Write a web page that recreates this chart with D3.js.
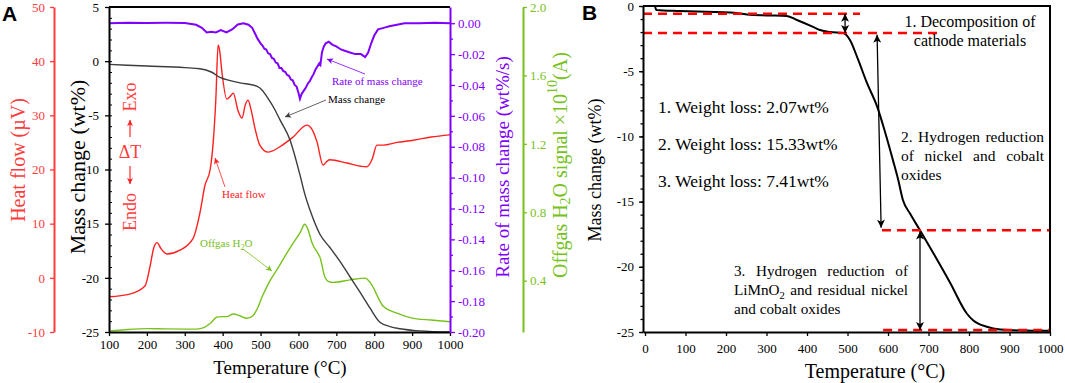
<!DOCTYPE html>
<html>
<head>
<meta charset="utf-8">
<script src="https://cdn.jsdelivr.net/npm/d3@7"></script>
<style>
  body { margin: 0; background: #fff; }
</style>
</head>
<body>
<svg id="chart" width="1065" height="383"></svg>
<script>
// ---- data ----
// panel A, temperature (°C) -> value
const heatFlow = [[100,-3.5],[155,-3.0],[195,-1.5],[208,2.0],[218,5.5],[227,6.5],[237,5.4],[253,4.4],[287,5.1],[322,7.3],[340,12],[353,17],[367,20],[375,25],[382,33],[388,43],[392,42],[398,38],[411,33],[420,33.5],[428,34.1],[440,31],[451,29.5],[460,32],[467,32.8],[475,31],[485,27.7],[498,24.5],[520,23.2],[551,24.2],[586,26],[622,28.2],[635,27.5],[649,25.1],[665,20.8],[675,21.5],[683,21.8],[728,21.2],[765,20.6],[780,20.5],[795,22],[807,24.5],[824,24.5],[860,25],[903,25.4],[950,26],[1000,26.4]];
const massA = [[100,-0.3],[200,-0.45],[300,-0.6],[340,-0.7],[370,-1.0],[393,-1.5],[420,-1.8],[446,-2.0],[490,-2.3],[505,-2.7],[517,-3.3],[535,-4.3],[551,-5.4],[578,-7.3],[604,-10.5],[617,-12.3],[630,-13.7],[657,-16.0],[683,-17.2],[710,-18.5],[736,-19.9],[762,-21.3],[789,-22.8],[815,-24.1],[842,-24.5],[868,-24.7],[921,-24.9],[1000,-25]];
const massRate = [[100,0],[150,0.0003],[200,0.0002],[250,0.0003],[300,0.0002],[330,-0.001],[345,-0.003],[358,-0.006],[370,-0.0055],[382,-0.006],[395,-0.0045],[410,-0.006],[425,-0.004],[440,-0.0008],[455,0],[468,-0.001],[478,-0.003],[486,-0.007],[492,-0.010],[500,-0.013],[505,-0.0145],[510,-0.0165],[515,-0.017],[520,-0.0195],[525,-0.020],[530,-0.0225],[535,-0.023],[540,-0.0255],[545,-0.026],[550,-0.029],[555,-0.029],[560,-0.031],[565,-0.0315],[570,-0.0335],[575,-0.034],[580,-0.0365],[585,-0.037],[590,-0.040],[595,-0.041],[600,-0.045],[604,-0.049],[608,-0.046],[612,-0.0445],[616,-0.043],[620,-0.0415],[625,-0.039],[630,-0.0375],[635,-0.035],[640,-0.033],[645,-0.030],[650,-0.028],[655,-0.026],[658,-0.027],[662,-0.019],[667,-0.015],[672,-0.013],[680,-0.012],[690,-0.014],[700,-0.015],[712,-0.017],[724,-0.018],[736,-0.019],[750,-0.020],[765,-0.020],[776,-0.022],[784,-0.019],[792,-0.013],[800,-0.008],[810,-0.004],[825,-0.003],[840,-0.002],[860,-0.001],[880,0],[920,0],[960,0.0003],[1000,0]];
const offgas = [[100,0.105],[150,0.115],[200,0.12],[250,0.118],[300,0.117],[332,0.117],[350,0.125],[367,0.15],[385,0.187],[398,0.19],[411,0.19],[428,0.205],[445,0.195],[464,0.18],[480,0.195],[490,0.23],[505,0.31],[525,0.40],[545,0.47],[569,0.56],[586,0.62],[604,0.68],[617,0.73],[625,0.7],[636,0.62],[650,0.565],[657,0.535],[670,0.42],[680,0.395],[692,0.39],[736,0.405],[776,0.415],[789,0.39],[800,0.35],[807,0.316],[824,0.25],[860,0.21],[903,0.18],[950,0.17],[1000,0.16]];

// panel B
const massB = [[25,-0.05],[28,-0.3],[86,-0.38],[150,-0.45],[210,-0.5],[252,-0.65],[300,-0.72],[350,-0.77],[375,-1.07],[415,-1.6],[432,-1.84],[457,-2.0],[489,-2.07],[506,-2.6],[526,-4.1],[548,-5.9],[573,-7.7],[593,-9.7],[612,-11.8],[625,-13.3],[637,-14.9],[654,-15.9],[679,-17.2],[711,-18.9],[753,-21.2],[795,-23.6],[810,-24.1],[844,-24.6],[877,-24.8],[959,-24.9],[1000,-24.9]];
const dashLevels = [-0.6, -2.07, -17.2, -24.85];
const dashFrom = [-5, -5, 585, 588];
const dashTo = [531, 728, 1000, 1000];
const stepArrows = [[494,-0.6,494,-2.07],[573,-2.2,583,-17.0],[679,-17.3,679,-24.85]];

// tick values
const tempTicksA = d3.range(100, 1001, 100);
const tempTicksB = d3.range(0, 1001, 100);
const massTicks = [5, 0, -5, -10, -15, -20, -25];
const heatTicks = [50, 40, 30, 20, 10, 0, -10];
const rateTicks = [0, -0.02, -0.04, -0.06, -0.08, -0.10, -0.12, -0.14, -0.16, -0.18, -0.20];
const gasTicks = [0.4, 0.8, 1.2, 1.6, 2.0];
const massTicksB = [0, -5, -10, -15, -20, -25];

const weightLoss = ["1. Weight loss: 2.07wt%", "2. Weight loss: 15.33wt%", "3. Weight loss: 7.41wt%"];
const noteOne = ["1. Decomposition of", "cathode materials"];
const noteTwo = [["2.","Hydrogen","reduction"],["of","nickel","and","cobalt"],["oxides"]];
const noteThree = [["3.","Hydrogen","reduction","of"],["LiMnO_2","and","residual","nickel"],["and","cobalt","oxides"]];

// ---- drawing ----
const serif = "'Liberation Serif','Times New Roman',serif";
const RED = "#ff3b3b", RED_LINE = "#ff2020", PURPLE = "#8000ff", GREEN = "#76c21b", GREY = "#3c3c3c";
const svg = d3.select("#chart");
const defs = svg.append("defs");

function addMarker(id, color, w, h) {
    defs.append("marker")
        .attr("id", id)
        .attr("viewBox", "0 0 10 10")
        .attr("refX", 10).attr("refY", 5)
        .attr("markerWidth", w).attr("markerHeight", h)
        .attr("markerUnits", "userSpaceOnUse")
        .attr("orient", "auto-start-reverse")
        .append("path")
        .attr("d", "M0,0 L10,5 L0,10 L2.5,5 z")
        .attr("fill", color);
}
addMarker("arRed", RED_LINE, 8, 6);
addMarker("arGrey", GREY, 8, 6);
addMarker("arPurple", PURPLE, 8, 6);
addMarker("arGreen", GREEN, 8, 6);
addMarker("arBlack", "#000", 9, 8);

function styleAxis(g, color, size) {
    g.attr("font-family", serif).attr("font-size", size);
    g.selectAll("path.domain").attr("stroke", color).attr("stroke-width", 2);
    g.selectAll(".tick line").attr("stroke", color).attr("stroke-width", 1.3);
    g.selectAll(".tick text").attr("fill", color);
}
const dash = f => (d => f(d).replace("\u2212", "-"));

// ===== Panel A =====
const xA = d3.scaleLinear().domain([100, 1000]).range([109, 450]);
const yMass = d3.scaleLinear().domain([-25, 5]).range([332, 7]);
const yHeat = d3.scaleLinear().domain([-10, 50]).range([332, 7]);
const yRate = d3.scaleLinear().domain([-0.2, 0.0105]).range([332, 7]);
const yGas = d3.scaleLinear().domain([0.1, 2.0]).range([332, 7]);

const lineOf = (x, y) => d3.line().x(d => x(d[0])).y(d => y(d[1])).curve(d3.curveMonotoneX);

svg.append("path").datum(heatFlow).attr("d", lineOf(xA, yHeat))
    .attr("fill", "none").attr("stroke", RED_LINE).attr("stroke-width", 1.4);
svg.append("path").datum(offgas).attr("d", lineOf(xA, yGas))
    .attr("fill", "none").attr("stroke", GREEN).attr("stroke-width", 1.4);
svg.append("path").datum(massA).attr("d", lineOf(xA, yMass))
    .attr("fill", "none").attr("stroke", GREY).attr("stroke-width", 1.4);
svg.append("path").datum(massRate).attr("d", d3.line().x(d => xA(d[0])).y(d => yRate(d[1])))
    .attr("fill", "none").attr("stroke", PURPLE).attr("stroke-width", 2);

// frame top
svg.append("line").attr("x1", 109).attr("x2", 450).attr("y1", 7).attr("y2", 7)
    .attr("stroke", "#000").attr("stroke-width", 2);

// bottom axis
const gxA = svg.append("g").attr("transform", "translate(0,332)")
    .call(d3.axisBottom(xA).tickValues(tempTicksA).tickFormat(d3.format("d")).tickSize(4).tickSizeOuter(0).tickPadding(4));
styleAxis(gxA, "#000", 13);

// left mass axis (major out, minor in)
const gMass = svg.append("g").attr("transform", "translate(109,0)")
    .call(d3.axisLeft(yMass).tickValues(massTicks).tickFormat(dash(d3.format("d"))).tickSize(4).tickSizeOuter(0).tickPadding(6));
styleAxis(gMass, "#000", 13);
const gMassMinor = svg.append("g").attr("transform", "translate(109,0)")
    .call(d3.axisRight(yMass).tickValues(d3.range(-25, 6, 1)).tickFormat("").tickSize(3).tickSizeOuter(0));
gMassMinor.select(".domain").remove();
gMassMinor.selectAll(".tick line").attr("stroke", "#000");

// red heat flow axis
const gHeat = svg.append("g").attr("transform", "translate(54,0)")
    .call(d3.axisLeft(yHeat).tickValues(heatTicks).tickFormat(dash(d3.format("d"))).tickSize(4).tickSizeOuter(0).tickPadding(5));
styleAxis(gHeat, RED, 13);

// purple rate axis
const gRateMinor = svg.append("g").attr("transform", "translate(450,0)")
    .call(d3.axisRight(yRate).tickValues(d3.range(-0.19, 0.001, 0.02)).tickFormat("").tickSize(3).tickSizeOuter(0));
gRateMinor.select(".domain").remove();
gRateMinor.selectAll(".tick line").attr("stroke", PURPLE).attr("stroke-width", 1.3);
const gRate = svg.append("g").attr("transform", "translate(450,0)")
    .call(d3.axisRight(yRate).tickValues(rateTicks).tickFormat(dash(d3.format(".2f"))).tickSize(5).tickSizeOuter(0).tickPadding(3));
styleAxis(gRate, PURPLE, 13);

// green offgas axis
const gGas = svg.append("g").attr("transform", "translate(523,0)")
    .call(d3.axisRight(yGas).tickValues(gasTicks).tickFormat(d3.format(".1f")).tickSize(4).tickSizeOuter(0).tickPadding(3));
styleAxis(gGas, GREEN, 13);

// axis titles A
function vTitle(x, y, color, size) {
    return svg.append("text")
        .attr("transform", `translate(${x},${y}) rotate(-90)`)
        .attr("text-anchor", "middle")
        .attr("dominant-baseline", "central")
        .attr("font-family", serif).attr("font-size", size)
        .attr("fill", color);
}
vTitle(18, 160, RED, 20).text("Heat flow (\u00b5V)");
vTitle(77, 167, "#000", 22).text("Mass change (wt%)");
vTitle(502, 167, PURPLE, 19).text("Rate of mass change (wt%/s)");
const gasTitle = vTitle(560, 165, GREEN, 20);
gasTitle.append("tspan").text("Offgas H");
gasTitle.append("tspan").attr("dy", 5).attr("font-size", 14).text("2");
gasTitle.append("tspan").attr("dy", -5).text("O signal \u00d710");
gasTitle.append("tspan").attr("dy", -8).attr("font-size", 14).text("10");
gasTitle.append("tspan").attr("dy", 8).text("(A)");

svg.append("text").attr("x", 280).attr("y", 374).attr("text-anchor", "middle")
    .attr("font-family", serif).attr("font-size", 19).text("Temperature (\u00b0C)");

// Exo / dT / Endo
vTitle(130, 97, RED, 18).text("Exo");
vTitle(130, 212, RED, 18).text("Endo");
svg.append("text").attr("x", 130).attr("y", 152).attr("text-anchor", "middle")
    .attr("dominant-baseline", "central").attr("font-family", serif).attr("font-size", 18)
    .attr("fill", RED).text("\u0394T");
svg.append("line").attr("x1", 130).attr("x2", 130).attr("y1", 137).attr("y2", 120)
    .attr("stroke", RED).attr("stroke-width", 1.3).attr("marker-end", "url(#arRed)");
svg.append("line").attr("x1", 130).attr("x2", 130).attr("y1", 166).attr("y2", 184)
    .attr("stroke", RED).attr("stroke-width", 1.3).attr("marker-end", "url(#arRed)");

// series labels with arrows
function label(x, y, color, txt) {
    return svg.append("text").attr("x", x).attr("y", y)
        .attr("font-family", serif).attr("font-size", 11).attr("fill", color).text(txt);
}
function pointer(x1, y1, x2, y2, color, marker) {
    svg.append("line").attr("x1", x1).attr("y1", y1).attr("x2", x2).attr("y2", y2)
        .attr("stroke", color).attr("stroke-width", 0.8).attr("marker-end", `url(#${marker})`);
}
label(222, 198, RED_LINE, "Heat flow");
pointer(225, 187, 215, 158, RED_LINE, "arRed");
label(328, 103, "#000", "Mass change");
pointer(326, 100, 285, 117, GREY, "arGrey");
label(332, 85, PURPLE, "Rate of mass change");
pointer(365, 74, 327, 59, PURPLE, "arPurple");
const og = label(200, 247, GREEN, "Offgas H");
og.append("tspan").attr("dy", 3).attr("font-size", 8).text("2");
og.append("tspan").attr("dy", -3).text("O");
pointer(243, 249, 272, 271, GREEN, "arGreen");

svg.append("text").attr("x", 2).attr("y", 21)
    .attr("font-family", "'Liberation Sans',Arial,sans-serif").attr("font-weight", "bold")
    .attr("font-size", 21).text("A");

// ===== Panel B =====
const xB = d3.scaleLinear().domain([-5, 1000]).range([643, 1050]);
const yB = d3.scaleLinear().domain([-25, 0]).range([332, 6]);

svg.append("path").datum(massB).attr("d", lineOf(xB, yB))
    .attr("fill", "none").attr("stroke", "#000").attr("stroke-width", 2);

dashLevels.forEach((v, i) => {
    svg.append("line")
        .attr("x1", xB(dashFrom[i])).attr("x2", xB(dashTo[i]))
        .attr("y1", yB(v)).attr("y2", yB(v))
        .attr("stroke", "#ff0000").attr("stroke-width", 2.5).attr("stroke-dasharray", "9,6");
});

stepArrows.forEach(a => {
    svg.append("line")
        .attr("x1", xB(a[0])).attr("y1", yB(a[1]))
        .attr("x2", xB(a[2])).attr("y2", yB(a[3]))
        .attr("stroke", "#000").attr("stroke-width", 1.3)
        .attr("marker-start", "url(#arBlack)").attr("marker-end", "url(#arBlack)");
});

// frame
svg.append("line").attr("x1", 643).attr("x2", 1051).attr("y1", 6).attr("y2", 6)
    .attr("stroke", "#000").attr("stroke-width", 2);
svg.append("line").attr("x1", 1050).attr("x2", 1050).attr("y1", 6).attr("y2", 332)
    .attr("stroke", "#000").attr("stroke-width", 2);

const gxB = svg.append("g").attr("transform", "translate(0,332)")
    .call(d3.axisBottom(xB).tickValues(tempTicksB).tickFormat(d3.format("d")).tickSize(4).tickSizeOuter(0).tickPadding(8));
styleAxis(gxB, "#000", 13);
const gyB = svg.append("g").attr("transform", "translate(643,0)")
    .call(d3.axisLeft(yB).tickValues(massTicksB).tickFormat(dash(d3.format("d"))).tickSize(4).tickSizeOuter(0).tickPadding(5));
styleAxis(gyB, "#000", 13);
const gyBMinor = svg.append("g").attr("transform", "translate(643,0)")
    .call(d3.axisLeft(yB).tickValues(d3.range(-25, 1, 1)).tickFormat("").tickSize(2.5).tickSizeOuter(0));
gyBMinor.select(".domain").remove();
gyBMinor.selectAll(".tick line").attr("stroke", "#000").attr("stroke-width", 1.3);

vTitle(595, 170, "#000", 18).text("Mass change (wt%)");
svg.append("text").attr("x", 875).attr("y", 378).attr("text-anchor", "middle")
    .attr("font-family", serif).attr("font-size", 20).text("Temperature (\u00b0C)");

// notes
weightLoss.forEach((t, i) => {
    svg.append("text").attr("x", 658).attr("y", 113 + i * 37)
        .attr("font-family", serif).attr("font-size", 17.5).text(t);
});
noteOne.forEach((t, i) => {
    svg.append("text").attr("x", 970).attr("y", 27 + i * 19).attr("text-anchor", "middle")
        .attr("font-family", serif).attr("font-size", 16).text(t);
});

function addWord(y, w, size) {
    const t = svg.append("text").attr("y", y).attr("font-family", serif).attr("font-size", size);
    if (w.includes("_")) {
        const p = w.split("_");
        t.append("tspan").text(p[0]);
        t.append("tspan").attr("dy", 4).attr("font-size", size * 0.7).text(p[1]);
    } else {
        t.text(w);
    }
    return t;
}
function justify(lines, x0, x1, y0, lh, size) {
    lines.forEach((words, i) => {
        const y = y0 + i * lh;
        const nodes = words.map(w => addWord(y, w, size));
        const widths = nodes.map(n => n.node().getComputedTextLength());
        const last = i === lines.length - 1;
        const gap = last || words.length < 2 ? size * 0.25
            : (x1 - x0 - d3.sum(widths)) / (words.length - 1);
        let x = x0;
        nodes.forEach((n, j) => { n.attr("x", x); x += widths[j] + gap; });
    });
}
justify(noteTwo, 901, 1044, 142, 19, 15.5);
justify(noteThree, 734, 908, 276, 19, 15.2);

svg.append("text").attr("x", 582).attr("y", 20)
    .attr("font-family", "'Liberation Sans',Arial,sans-serif").attr("font-weight", "bold")
    .attr("font-size", 21).text("B");
</script>
</body>
</html>
